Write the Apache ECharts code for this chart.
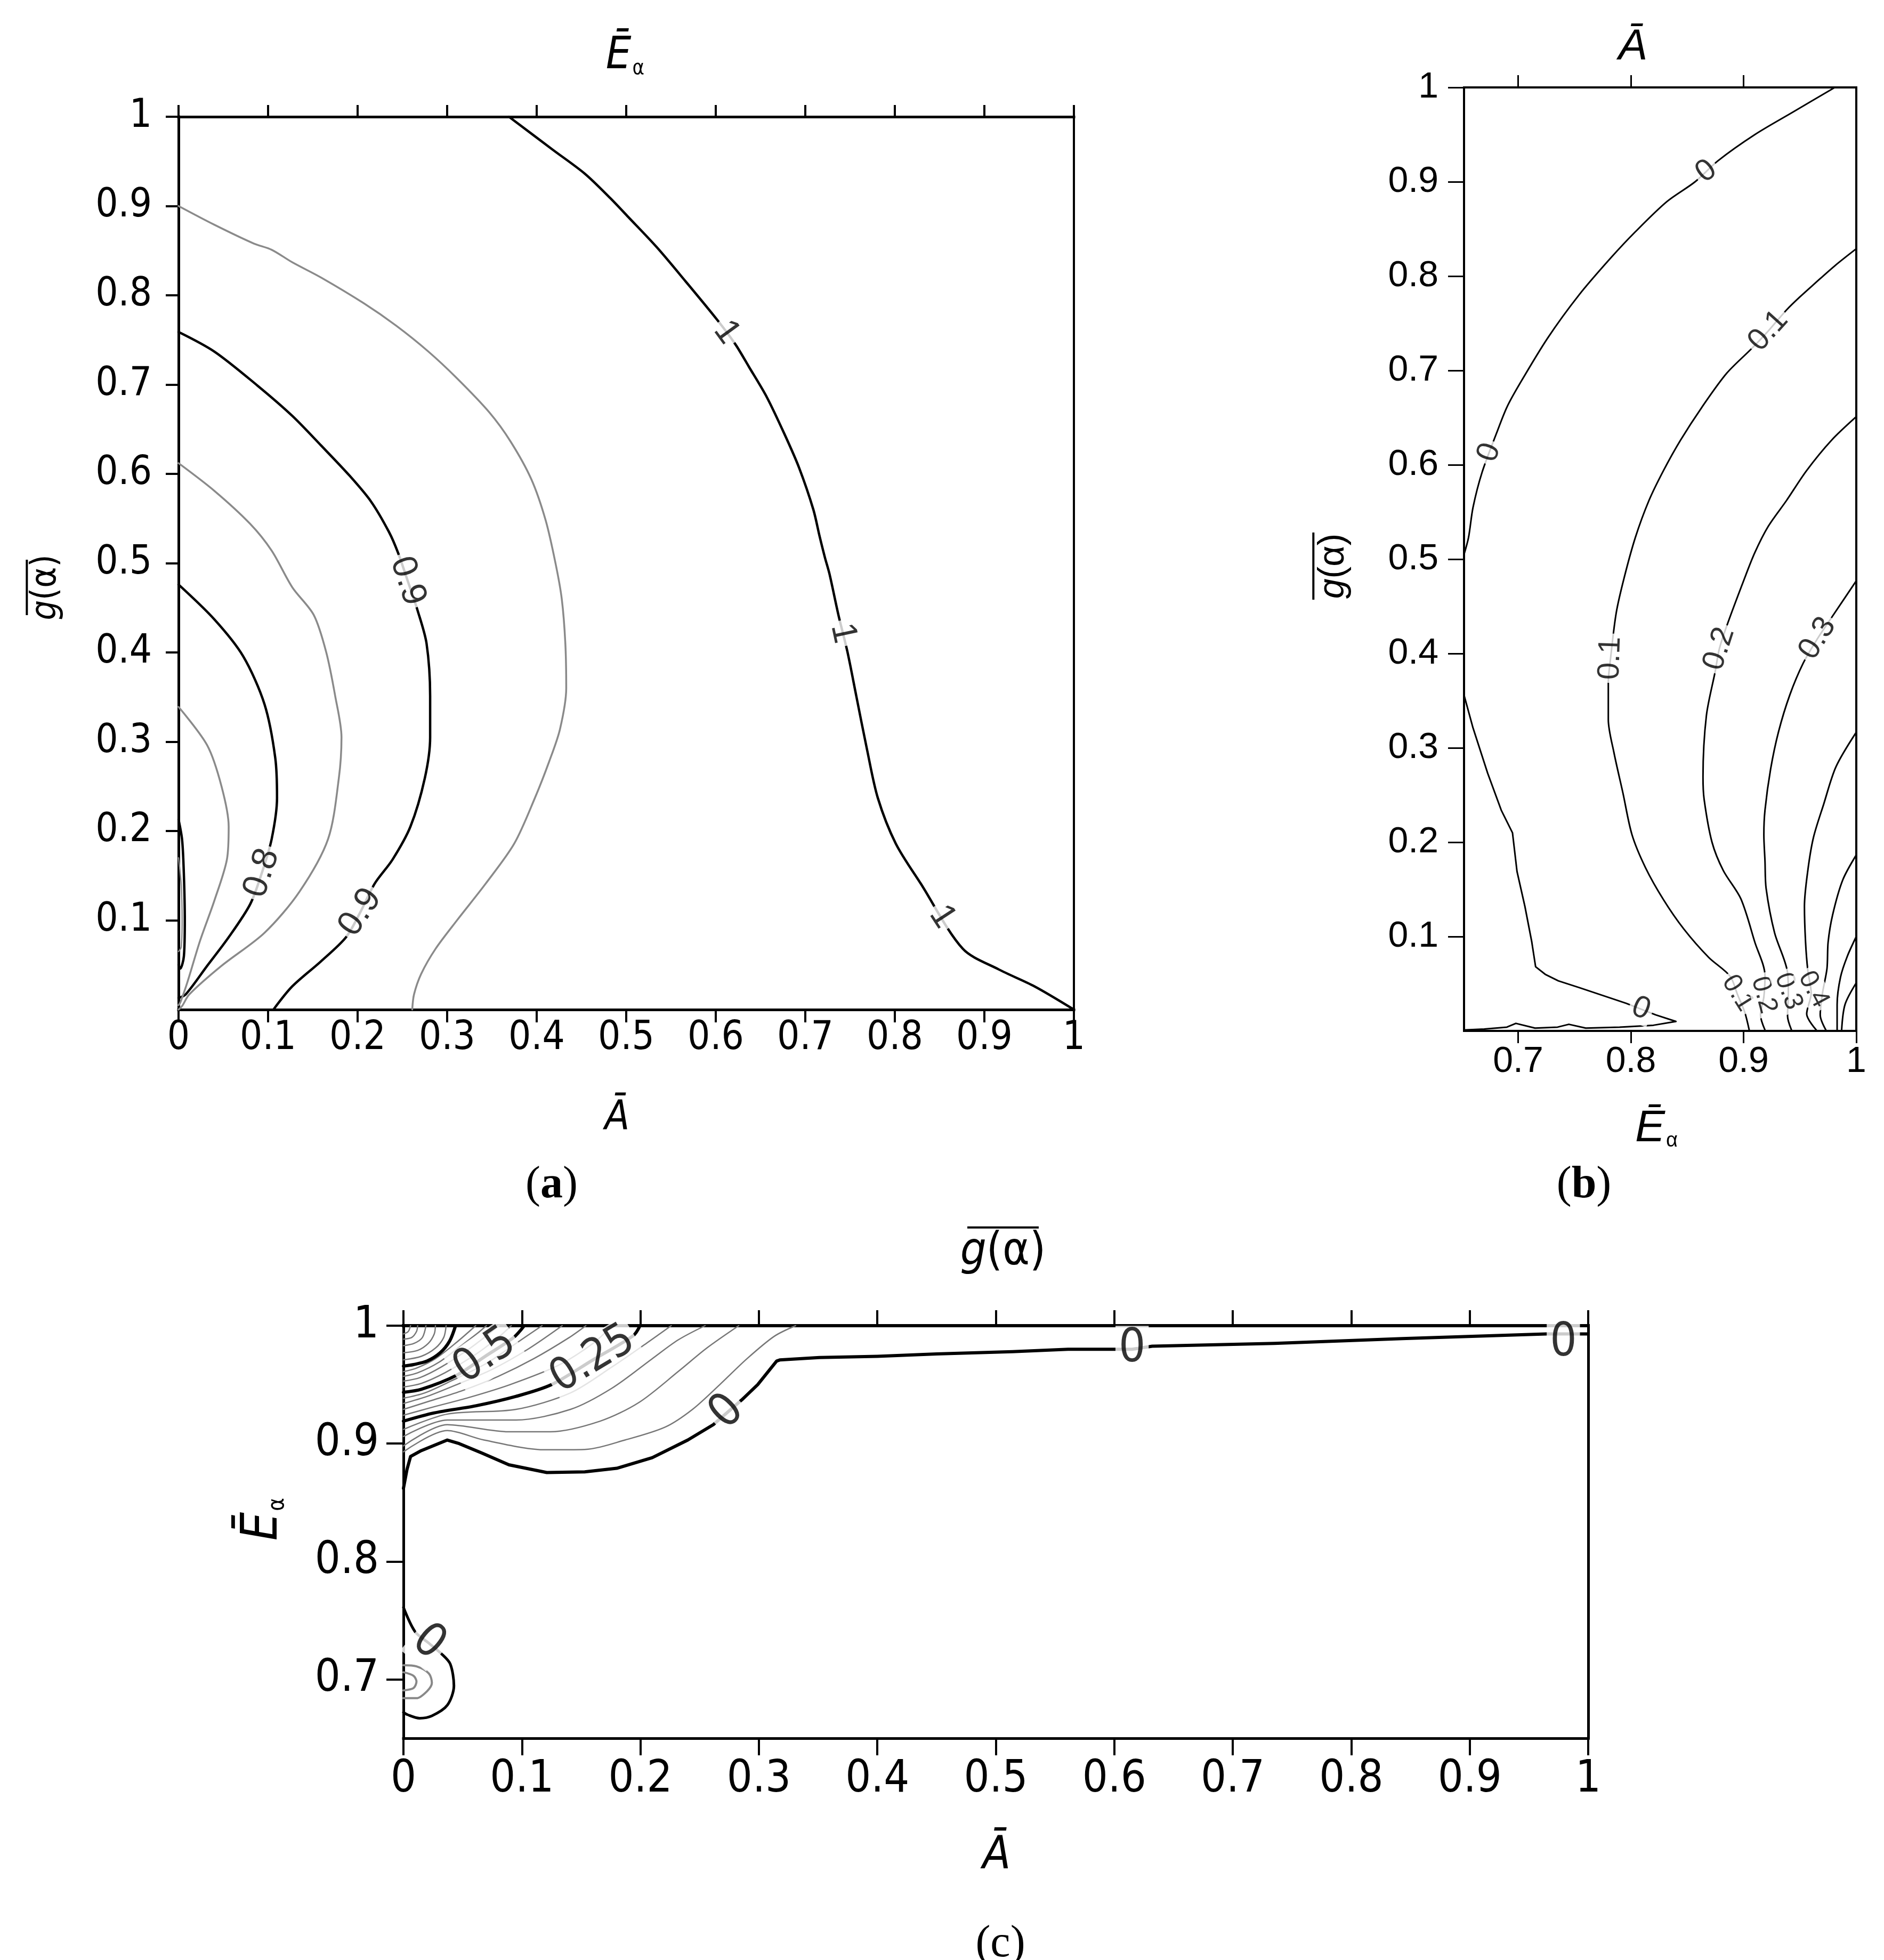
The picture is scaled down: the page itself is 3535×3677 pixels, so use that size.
<!DOCTYPE html>
<html><head><meta charset="utf-8">
<script src="https://cdn.jsdelivr.net/npm/echarts@6/dist/echarts.min.js"></script>
<style>html,body{margin:0;padding:0;background:#fff}#c{width:3535px;height:3677px}</style>
</head><body><div id="c"></div>
<script>
// ---------------- Panel (a): x = Ā, y = g(α) ----------------
const aXTicks = [0,0.1,0.2,0.3,0.4,0.5,0.6,0.7,0.8,0.9,1];
const aYTicks = [0.1,0.2,0.3,0.4,0.5,0.6,0.7,0.8,0.9,1];
const aLine100 = [[0.369,1],[0.418,0.963],[0.454,0.936],[0.482,0.909],[0.502,0.888],[0.534,0.854],[0.566,0.816],[0.602,0.772],[0.622,0.745],[0.637,0.720],[0.657,0.686],[0.677,0.644],[0.693,0.607],[0.709,0.560],[0.716,0.530],[0.722,0.506],[0.727,0.488],[0.737,0.442],[0.747,0.401],[0.757,0.351],[0.769,0.291],[0.781,0.237],[0.801,0.186],[0.829,0.141],[0.876,0.068],[0.916,0.045],[0.956,0.026],[1,0]];
const aLine095 = [[0,0.9],[0.040,0.879],[0.084,0.858],[0.104,0.851],[0.127,0.837],[0.159,0.820],[0.207,0.791],[0.243,0.766],[0.279,0.737],[0.311,0.707],[0.347,0.669],[0.371,0.636],[0.394,0.594],[0.410,0.548],[0.421,0.500],[0.428,0.460],[0.432,0.410],[0.433,0.360],[0.426,0.314],[0.414,0.278],[0.398,0.237],[0.375,0.186],[0.343,0.141],[0.311,0.100],[0.287,0.068],[0.271,0.040],[0.263,0.017],[0.261,0]];
const aLine090 = [[0,0.759],[0.040,0.737],[0.088,0.699],[0.127,0.665],[0.159,0.632],[0.191,0.598],[0.215,0.569],[0.235,0.535],[0.245,0.512],[0.256,0.480],[0.267,0.447],[0.277,0.410],[0.281,0.351],[0.281,0.305],[0.275,0.259],[0.259,0.205],[0.239,0.168],[0.219,0.141],[0.203,0.109],[0.187,0.081],[0.159,0.054],[0.127,0.026],[0.106,0]];
const aLine085 = [[0,0.612],[0.040,0.581],[0.080,0.544],[0.104,0.514],[0.127,0.473],[0.151,0.442],[0.165,0.400],[0.175,0.351],[0.182,0.305],[0.179,0.259],[0.167,0.191],[0.135,0.132],[0.096,0.086],[0.048,0.049],[0.012,0.017],[0.004,0.004],[0,0]];
const aLine080 = [[0,0.476],[0.040,0.437],[0.072,0.396],[0.096,0.342],[0.108,0.282],[0.110,0.237],[0.104,0.191],[0.093,0.153],[0.080,0.118],[0.056,0.081],[0.032,0.049],[0.008,0.017],[0,0.013]];
const aLine075 = [[0,0.339],[0.032,0.296],[0.048,0.250],[0.056,0.205],[0.054,0.168],[0.040,0.122],[0.024,0.077],[0.010,0.031],[0.002,0.008],[0,0.005]];
const aLine070 = [[0,0.213],[0.004,0.19],[0.006,0.15],[0.007,0.10],[0.006,0.06],[0.002,0.046],[0,0.05]];
const aLine065 = [[0,0.17],[0.003,0.14],[0.004,0.10],[0.003,0.07],[0,0.065]];
const aLabelPts = [[0.612,0.7585,'1'],[0.742,0.4215,'1'],[0.853,0.104,'1'],[0.256,0.480,'0.9'],[0.203,0.109,'0.9'],[0.093,0.153,'0.8']];
const aLabelRot = [-54,-78,-57,-72,56,72];

// ---------------- Panel (b): x = Ē_α, y = g(α) ----------------
const bXTicks = [0.7,0.8,0.9,1];
const bTopTicks = [0.7,0.8,0.9];
const bYTicks = [0.1,0.2,0.3,0.4,0.5,0.6,0.7,0.8,0.9,1];
const bLine0a = [[0.981,1],[0.944,0.974],[0.910,0.950],[0.877,0.922],[0.857,0.900],[0.832,0.879],[0.804,0.847],[0.782,0.819],[0.754,0.780],[0.726,0.734],[0.701,0.685],[0.690,0.661],[0.681,0.634],[0.668,0.592],[0.660,0.555],[0.656,0.523],[0.652,0.505]];
const bLine0b = [[0.652,0.356],[0.660,0.321],[0.673,0.273],[0.685,0.234],[0.695,0.210],[0.699,0.169],[0.706,0.132],[0.712,0.095],[0.7155,0.068],[0.724,0.060],[0.7357,0.053],[0.754,0.046],[0.7957,0.0293],[0.822,0.017],[0.840,0.010],[0.820,0.006],[0.790,0.004],[0.760,0.003],[0.745,0.007],[0.735,0.004],[0.715,0.003],[0.698,0.008],[0.690,0.004],[0.670,0.002],[0.652,0.001]];
const bLine01 = [[1.0,0.829],[0.981,0.811],[0.963,0.792],[0.950,0.778],[0.938,0.764],[0.922,0.742],[0.907,0.723],[0.885,0.697],[0.863,0.661],[0.844,0.626],[0.829,0.594],[0.816,0.562],[0.804,0.523],[0.794,0.480],[0.787,0.443],[0.782,0.395],[0.780,0.369],[0.780,0.330],[0.785,0.295],[0.793,0.252],[0.801,0.208],[0.813,0.173],[0.829,0.139],[0.847,0.108],[0.869,0.078],[0.888,0.058],[0.8948,0.038],[0.901,0.020],[0.905,0.001]];
const bLine02 = [[1.0,0.651],[0.978,0.626],[0.956,0.594],[0.938,0.562],[0.922,0.535],[0.910,0.507],[0.900,0.477],[0.885,0.429],[0.8785,0.405],[0.875,0.382],[0.867,0.334],[0.864,0.269],[0.865,0.2455],[0.872,0.200],[0.882,0.170],[0.8976,0.140],[0.910,0.094],[0.919,0.0585],[0.918,0.036],[0.915,0.017],[0.919,0.001]];
const bLine03 = [[1.0,0.477],[0.978,0.438],[0.9657,0.416],[0.953,0.390],[0.941,0.356],[0.931,0.317],[0.924,0.2775],[0.919,0.234],[0.918,0.208],[0.919,0.180],[0.920,0.151],[0.9275,0.104],[0.939,0.062],[0.9397,0.040],[0.939,0.016],[0.9425,0.001]];
const bLine04 = [[1.0,0.3166],[0.982,0.280],[0.971,0.240],[0.962,0.205],[0.957,0.170],[0.954,0.132],[0.955,0.094],[0.957,0.064],[0.960,0.040],[0.956,0.018],[0.9645,0.001]];
const bLine05 = [[1.0,0.1865],[0.988,0.160],[0.979,0.123],[0.975,0.094],[0.974,0.066],[0.970,0.040],[0.968,0.017],[0.973,0.001]];
const bLine06 = [[1.0,0.100],[0.992,0.079],[0.986,0.057],[0.983,0.028],[0.983,0.001]];
const bLine07 = [[1.0,0.051],[0.990,0.028],[0.987,0.001]];
const bLabelPts = [[0.867,0.911,'0'],[0.6745,0.613,'0'],[0.809,0.0235,'0'],[0.922,0.742,'0.1'],[0.782,0.395,'0.1'],[0.8785,0.405,'0.2'],[0.9657,0.416,'0.3'],[0.8948,0.040,'0.1'],[0.918,0.038,'0.2'],[0.9397,0.042,'0.3'],[0.962,0.044,'0.4']];
const bLabelRot = [38,70,-22,48,88,72,58,-58,-75,-70,-62];

// ---------------- Panel (c): x = Ā, y = Ē_α ----------------
const cXTicks = [0,0.1,0.2,0.3,0.4,0.5,0.6,0.7,0.8,0.9,1];
const cYTicks = [0.7,0.8,0.9,1];
const cLine000 = [[0,0.862],[0.003,0.878],[0.006,0.889],[0.015,0.894],[0.037,0.903],[0.047,0.900],[0.066,0.892],[0.089,0.882],[0.121,0.8754],[0.153,0.876],[0.180,0.879],[0.210,0.888],[0.240,0.903],[0.2615,0.916],[0.2735,0.9265],[0.2855,0.937],[0.299,0.950],[0.315,0.970],[0.3176,0.9709],[0.351,0.973],[0.400,0.974],[0.450,0.976],[0.514,0.978],[0.561,0.980],[0.615,0.980],[0.632,0.9826],[0.735,0.985],[0.843,0.989],[0.9646,0.993],[1,0.993]];
const cLine005 = [[0,0.893],[0.037,0.911],[0.068,0.903],[0.120,0.8947],[0.153,0.895],[0.187,0.903],[0.221,0.914],[0.244,0.929],[0.267,0.950],[0.290,0.972],[0.313,0.991],[0.331,1]];
const cLine010 = [[0,0.898],[0.037,0.916],[0.0886,0.910],[0.124,0.910],[0.166,0.919],[0.199,0.935],[0.233,0.962],[0.256,0.981],[0.283,1]];
const cLine015 = [[0,0.906],[0.037,0.920],[0.095,0.920],[0.141,0.929],[0.176,0.947],[0.210,0.972],[0.232,0.988],[0.2546,1]];
const cLine020 = [[0,0.912],[0.037,0.925],[0.095,0.929],[0.141,0.943],[0.176,0.965],[0.205,0.985],[0.226,1]];
const cLine025 = [[0,0.919],[0.026,0.926],[0.061,0.932],[0.095,0.940],[0.125,0.950],[0.160,0.971],[0.194,0.9916],[0.1997,1]];
const cLine030 = [[0,0.924],[0.025,0.931],[0.055,0.939],[0.090,0.950],[0.130,0.966],[0.160,0.985],[0.176,1]];
const cLine035 = [[0,0.929],[0.022,0.936],[0.050,0.945],[0.080,0.957],[0.110,0.972],[0.140,0.990],[0.154,1]];
const cLine040 = [[0,0.934],[0.020,0.940],[0.045,0.950],[0.075,0.963],[0.105,0.980],[0.134,1]];
const cLine045 = [[0,0.9385],[0.018,0.943],[0.040,0.953],[0.070,0.968],[0.095,0.985],[0.117,1]];
const cLine050 = [[0,0.9435],[0.015,0.946],[0.045,0.958],[0.069,0.974],[0.093,0.990],[0.102,1]];
const cLine055 = [[0,0.948],[0.015,0.951],[0.035,0.960],[0.060,0.975],[0.080,0.990],[0.091,1]];
const cLine060 = [[0,0.953],[0.014,0.956],[0.032,0.965],[0.055,0.980],[0.072,0.993],[0.0806,1]];
const cLine065 = [[0,0.957],[0.012,0.960],[0.030,0.969],[0.050,0.984],[0.063,0.994],[0.070,1]];
const cLine070 = [[0,0.961],[0.011,0.964],[0.027,0.972],[0.045,0.986],[0.061,1]];
const cLine075 = [[0,0.9657],[0.0085,0.967],[0.020,0.970],[0.031,0.977],[0.039,0.987],[0.044,1]];
const cLine080 = [[0,0.971],[0.015,0.974],[0.027,0.981],[0.034,0.990],[0.036,1]];
const cLine085 = [[0,0.977],[0.012,0.979],[0.021,0.985],[0.026,0.993],[0.027,1]];
const cLine090 = [[0,0.983],[0.009,0.985],[0.016,0.990],[0.019,1]];
const cLine095 = [[0,0.9886],[0.007,0.990],[0.011,0.995],[0.012,1]];
const cLine100 = [[0,0.993],[0.004,0.995],[0.006,1]];
const cLoop0 = [[0,0.761],[0.0098,0.7404],[0.021,0.731],[0.0318,0.7219],[0.0395,0.713],[0.0426,0.6945],[0.037,0.678],[0.024,0.669],[0.0137,0.667],[0.0034,0.670],[0,0.672]];
const cLoopG1 = [[0,0.712],[0.011,0.711],[0.0214,0.705],[0.024,0.697],[0.020,0.690],[0.011,0.684],[0,0.684]];
const cLoopG2 = [[0,0.706],[0.0085,0.703],[0.011,0.698],[0.0085,0.6926],[0,0.6906]];
const cLabelPts = [[0.069,0.974,'0.5'],[0.160,0.971,'0.25'],[0.2735,0.9265,'0'],[0.615,0.980,'0'],[0.979,0.985,'0'],[0.021,0.731,'0']];
const cLabelRot = [34,31,45,0,0,-40];

// ---------------- rendering ----------------
const NARROW = '"Liberation Sans Narrow","DejaVu Sans Condensed","Liberation Sans",sans-serif';
const SANS = '"Liberation Sans",Arial,sans-serif';
const SERIF = '"Liberation Serif","Times New Roman",serif';
const fmt = v => String(+(+v).toFixed(2));

function mkAxis(gi, pos, min, max, ticks, labels, st) {
  return {
    type: 'value', gridIndex: gi, position: pos, min: min, max: max,
    splitLine: {show: false},
    axisLine: {show: true, onZero: false, lineStyle: {color: '#000', width: st.lw, cap: 'square'}},
    axisTick: ticks ? {show: true, inside: false, length: st.tl, customValues: ticks, lineStyle: {color: '#000', width: st.tw}} : {show: false},
    axisLabel: labels ? {show: true, customValues: labels, formatter: fmt, color: '#000', fontFamily: st.ff, fontSize: st.fs, margin: st.m} : {show: false}
  };
}

const stAx = {lw: 5, tl: 24, tw: 4, ff: NARROW, fs: 74, m: 18};
const stAy = {lw: 5, tl: 24, tw: 4, ff: NARROW, fs: 74, m: 50};
const stBx = {lw: 4, tl: 23, tw: 3, ff: SANS, fs: 68, m: 24};
const stBy = {lw: 4, tl: 30, tw: 3, ff: SANS, fs: 68, m: 48};
const stCx = {lw: 5, tl: 32, tw: 4, ff: NARROW, fs: 84, m: 36};
const stCy = {lw: 5, tl: 32, tw: 4, ff: NARROW, fs: 84, m: 46};
const stTop = (lw, tl, tw) => ({lw: lw, tl: tl, tw: tw});

const xAxes = [
  mkAxis(0, 'bottom', 0, 1, aXTicks, aXTicks, stAx),
  mkAxis(0, 'top', 0, 1, aXTicks, null, stTop(5, 22, 4)),
  mkAxis(1, 'bottom', 0.652, 1, bXTicks, bXTicks, stBx),
  mkAxis(1, 'top', 0.652, 1, bTopTicks, null, stTop(4, 23, 3)),
  mkAxis(2, 'bottom', 0, 1, cXTicks, cXTicks, stCx),
  mkAxis(2, 'top', 0, 1, cXTicks, null, stTop(6, 29, 4))
];
const yAxes = [
  mkAxis(0, 'left', 0, 1, aYTicks, aYTicks, stAy),
  mkAxis(0, 'right', 0, 1, null, null, stTop(4, 0, 0)),
  mkAxis(1, 'left', 0, 1, bYTicks, bYTicks, stBy),
  mkAxis(1, 'right', 0, 1, null, null, stTop(4, 0, 0)),
  mkAxis(2, 'left', 0.65, 1, cYTicks, cYTicks, stCy),
  mkAxis(2, 'right', 0.65, 1, null, null, stTop(5, 0, 0))
];

const series = [];
function ln(g, data, color, width, smooth) {
  series.push({type: 'line', xAxisIndex: 2 * g, yAxisIndex: 2 * g, data: data, symbol: 'none', showSymbol: false,
    smooth: smooth, silent: true, z: 3, lineStyle: {color: color, width: width, join: 'round', cap: 'round'}});
}
function labels(g, pts, rots, font, size) {
  series.push({type: 'scatter', xAxisIndex: 2 * g, yAxisIndex: 2 * g, symbolSize: 1, silent: true, z: 10,
    itemStyle: {color: 'rgba(0,0,0,0)'},
    data: pts.map((p, i) => ({value: [p[0], p[1]], label: {formatter: p[2], rotate: rots[i]}})),
    label: {show: true, position: 'inside', color: '#000', fontFamily: font, fontSize: size,
      backgroundColor: '#fff', padding: [0, 6], lineHeight: size}});
}

const BLK = '#000', GRY = '#8a8a8a', CGRY = '#777';
// (a)
ln(0, aLine100, BLK, 4.5, 0.3);
ln(0, aLine095, GRY, 3.5, 0.3);
ln(0, aLine090, BLK, 4.5, 0.3);
ln(0, aLine085, GRY, 3.5, 0.3);
ln(0, aLine080, BLK, 4.5, 0.3);
ln(0, aLine075, GRY, 3.5, 0.3);
ln(0, aLine070, BLK, 4.5, 0.3);
ln(0, aLine065, GRY, 2.5, 0.3);
labels(0, aLabelPts, aLabelRot, SANS, 66);
// (b)
[bLine0a, bLine01, bLine02, bLine03, bLine04, bLine05, bLine06, bLine07].forEach(d => ln(1, d, BLK, 3, 0.3));
ln(1, bLine0b, BLK, 3, 0);
labels(1, bLabelPts.slice(0, 7), bLabelRot.slice(0, 7), SANS, 58);
labels(1, bLabelPts.slice(7), bLabelRot.slice(7), SANS, 50);
// (c)
[cLine005, cLine010, cLine015, cLine020, cLine030, cLine035, cLine040, cLine045, cLine055, cLine060, cLine065, cLine070, cLine080, cLine085, cLine090, cLine095, cLine100].forEach(d => ln(2, d, CGRY, 2.5, 0.3));
[cLine025, cLine050, cLine075].forEach(d => ln(2, d, BLK, 6, 0.3));
ln(2, cLine000, BLK, 6, 0);
ln(2, cLoopG1, '#888', 4, 0.3);
ln(2, cLoopG2, '#888', 4, 0.3);
ln(2, cLoop0, BLK, 5, 0.3);
labels(2, cLabelPts.slice(0, 2), cLabelRot.slice(0, 2), NARROW, 84);
labels(2, cLabelPts.slice(2), cLabelRot.slice(2), NARROW, 88);

function gTitle(x, y, rot, text, rich) {
  return {type: 'text', x: x, y: y, rotation: rot, silent: true, z: 50,
    style: {text: text, fill: '#000', align: 'center', verticalAlign: 'middle', rich: rich}};
}
const richE = (ff, fs) => ({e: {fontFamily: ff, fontSize: fs, fontStyle: 'italic', fill: '#000'}, s: {fontFamily: ff, fontSize: Math.round(fs * 0.45), fill: '#000', verticalAlign: 'bottom', padding: [0, 0, 0, 2]}});
const richG = (ff, fs, w) => ({ol: {width: w, height: 4, lineHeight: 4, backgroundColor: '#000'}, g: {fontFamily: ff, fontSize: fs, fontStyle: 'italic', fill: '#000', lineHeight: fs * 1.05}, p: {fontFamily: ff, fontSize: fs, fill: '#000', lineHeight: fs * 1.05}});
const richL = {p: {fontFamily: SERIF, fontSize: 84, fill: '#000'}, b: {fontFamily: SERIF, fontSize: 84, fontWeight: 'bold', fill: '#000'}};

const graphic = [
  gTitle(1173, 106, 0, '{e|Ē}{s|α}', richE(NARROW, 84)),
  gTitle(1158, 2098, 0, '{e|Ā}', richE(NARROW, 76)),
  gTitle(85, 1102, Math.PI / 2, '{ol| }\n{g|g}{p|(α)}', richG(NARROW, 66, 104)),
  gTitle(3064, 88, 0, '{e|Ā}', richE(SANS, 82)),
  gTitle(3108, 2118, 0, '{e|Ē}{s|α}', richE(SANS, 84)),
  gTitle(2500, 1062, Math.PI / 2, '{ol| }\n{g|g}{p|(α)}', richG(SANS, 68, 126)),
  gTitle(1882, 2348, 0, '{ol| }\n{g|g}{p|(α)}', richG(NARROW, 86, 134)),
  gTitle(495, 2850, Math.PI / 2, '{e|Ē}{s|α}', richE(NARROW, 94)),
  gTitle(1870, 3483, 0, '{e|Ā}', richE(NARROW, 86)),
  gTitle(1035, 2224, 0, '{p|(}{b|a}{p|)}', richL),
  gTitle(2972, 2224, 0, '{p|(}{b|b}{p|)}', richL),
  gTitle(1877, 3648, 0, '{p|(}{p|c}{p|)}', richL)
];

const chart = echarts.init(document.getElementById('c'), null, {renderer: 'canvas'});
chart.setOption({
  animation: false,
  backgroundColor: '#fff',
  grid: [
    {left: 335, top: 219, width: 1680, height: 1675, containLabel: false, outerBoundsMode: 'none'},
    {left: 2747, top: 164, width: 736, height: 1770, containLabel: false, outerBoundsMode: 'none'},
    {left: 757, top: 2487, width: 2223, height: 774, containLabel: false, outerBoundsMode: 'none'}
  ],
  xAxis: xAxes,
  yAxis: yAxes,
  series: series,
  graphic: graphic
});
</script>
</body></html>
